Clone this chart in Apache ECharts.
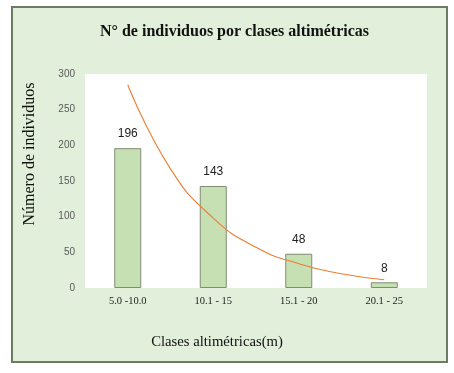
<!DOCTYPE html>
<html>
<head>
<meta charset="utf-8">
<script src="https://cdn.jsdelivr.net/npm/echarts@6/dist/echarts.min.js"></script>
<style>
html,body{margin:0;padding:0;background:#ffffff;}
#chart{width:454px;height:373px;}
</style>
</head>
<body>
<div id="chart"></div>
<script>
var categories = ['5.0 -10.0', '10.1 - 15', '15.1 - 20', '20.1 - 25'];
var individuos = [196, 143, 48, 8];
// Orange trend curve at positions along the category axis (1 = first category centre)
var trendX = [1, 1.5, 2, 2.5, 3, 3.5, 4];
var trendY = [285, 167, 98, 57, 34, 20, 11.5];
var yTicks = [0, 50, 100, 150, 200, 250, 300];

var chart = echarts.init(document.getElementById('chart'));
var trendData = trendX.map(function (x, i) { return [x, trendY[i]]; });

chart.setOption({
  backgroundColor: '#ffffff',
  animation: false,
  graphic: [{
    type: 'rect',
    z: -10,
    shape: { x: 12, y: 7, width: 435, height: 355 },
    style: { fill: '#e2efda', stroke: '#6e7b64', lineWidth: 2 }
  }, {
    type: 'text',
    x: 30, y: 154,
    rotation: Math.PI / 2,
    style: {
      text: 'Número de individuos',
      align: 'center', verticalAlign: 'middle',
      font: '16px "Liberation Serif"', fill: '#111111'
    }
  }, {
    type: 'text',
    x: 217, y: 342,
    style: {
      text: 'Clases altimétricas(m)',
      align: 'center', verticalAlign: 'middle',
      font: '14.7px "Liberation Serif"', fill: '#111111'
    }
  }],
  title: {
    text: 'N° de individuos por clases altimétricas',
    left: 95, top: 19,
    textStyle: { fontFamily: 'Liberation Serif', fontWeight: 'bold', fontSize: 16, color: '#111111' }
  },
  grid: {
    left: 85, top: 74, right: 27, bottom: 85,
    show: true, backgroundColor: '#ffffff', borderWidth: 0
  },
  xAxis: [{
    type: 'category',
    data: categories,
    axisLine: { show: false },
    axisTick: { show: false },
    axisLabel: { fontFamily: 'Liberation Serif', fontSize: 10.5, color: '#222222', margin: 8 }
  }, {
    type: 'value', min: 0.5, max: 4.5, show: false
  }],
  yAxis: {
    type: 'value', min: 0, max: 300, interval: 50,
    axisLine: { show: false }, axisTick: { show: false },
    splitLine: { show: false },
    axisLabel: { fontFamily: 'Liberation Sans', fontSize: 10, color: '#595959', margin: 10 }
  },
  series: [{
    type: 'bar',
    data: individuos,
    barWidth: 27,
    itemStyle: { color: '#c6e0b4', borderColor: '#7f8c73', borderWidth: 1 },
    label: {
      show: true, position: 'top', distance: 8,
      fontFamily: 'Liberation Sans', fontSize: 12, color: '#222222'
    }
  }, {
    type: 'line',
    xAxisIndex: 1,
    data: trendData,
    smooth: true,
    symbol: 'none',
    lineStyle: { color: '#ed7d31', width: 1.1 },
    z: 5
  }]
});
</script>
</body>
</html>
